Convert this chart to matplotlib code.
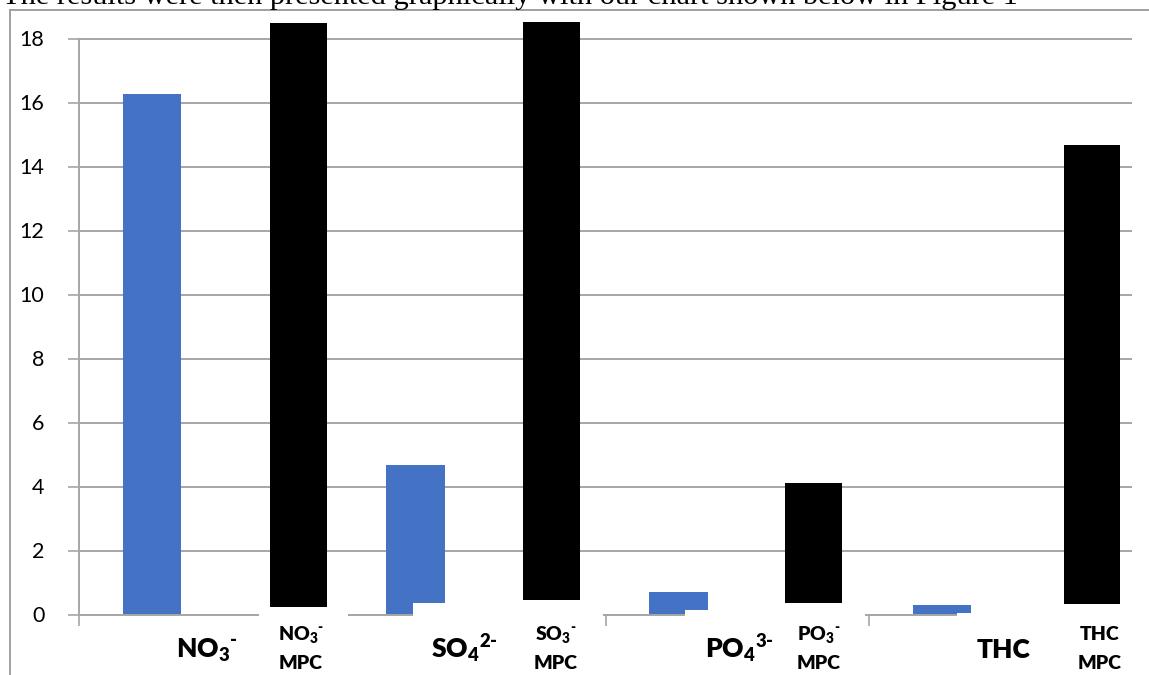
import numpy as np
import matplotlib.pyplot as plt
from matplotlib.lines import Line2D
from matplotlib.patches import Rectangle

plt.rcParams['font.family'] = ['Lato', 'DejaVu Sans']
plt.rcParams['mathtext.fontset'] = 'custom'
plt.rcParams['mathtext.rm'] = 'Lato:heavy'
plt.rcParams['mathtext.bf'] = 'Lato:heavy'

# measured values
groups = [r"$\mathrm{NO_3}^{\text{-}}$", r"$\mathrm{SO_4}^{\text{2-}}$", r"$\mathrm{PO_4}^{\text{3-}}$", "THC"]
mpc_top_lines = [r"$\mathrm{NO_3}^{\text{-}}$", r"$\mathrm{SO_3}^{\text{-}}$", r"$\mathrm{PO_3}^{\text{-}}$", "THC"]
blue_values = [16.27, 4.67, 0.70, 0.30]
black_tops = [18.49, 18.51, 4.11, 14.67]
black_bottoms = [0.23, 0.45, 0.36, 0.33]
black_offset = [0.726, 0.687, 0.682, 0.741]
# white boxes pasted over the chart bottom (left, right, top)
mask_left = [0.684, 1.269, 2.302, 3.335]
mask_right = [1.022, 1.990, 2.986, 4.10]
mask_top = [0.23, 0.36, 0.14, 0.05]
group_label_x = [0.486, 1.463, 2.507, 3.51]
mpc_label_x = [0.843, 1.812, 2.81, 3.878]

W, H = 1149, 675
fig = plt.figure(figsize=(W / 100, H / 100), dpi=100)

# axes placement from pixel measurements
y0_px, px_per_unit = 614.5, 32.0
ytop = 18.6
ax = fig.add_axes([79 / W, (H - y0_px) / H, 1053 / W, ytop * px_per_unit / H])
ax.set_xlim(0, 4)
ax.set_ylim(0, ytop)

grey = "#a6a6a6"
ax.set_axisbelow(True)
ax.yaxis.grid(True, color=grey, lw=1.4)
ax.set_yticks(np.arange(0, 19, 2))
ax.set_xticks(np.arange(0, 5))
ax.set_xticklabels([])
ax.tick_params(axis="both", direction="out", length=8, width=1.2, color=grey,
               labelsize=15.5, pad=17)
for s in ["top", "right"]:
    ax.spines[s].set_visible(False)
ax.spines["left"].set_bounds(0, 18)
for s in ["left", "bottom"]:
    ax.spines[s].set_color(grey)
    ax.spines[s].set_linewidth(1.4)

x = np.arange(4)
ax.bar(x + 0.167, blue_values, width=0.222, align="edge", color="#4472C4", zorder=1)

for i in range(4):
    ax.add_patch(Rectangle((mask_left[i], -3), mask_right[i] - mask_left[i],
                           mask_top[i] + 3, facecolor="white", edgecolor="none",
                           zorder=3, clip_on=False))

heights = np.array(black_tops) - np.array(black_bottoms)
ax.bar(x + np.array(black_offset), heights, bottom=black_bottoms, width=0.215,
       align="edge", color="black", zorder=4, clip_on=False)

for i in range(4):
    ax.text(group_label_x[i], -1.36, groups[i], ha="center", va="baseline",
            fontsize=19, fontweight="heavy", zorder=5, clip_on=False)
    ax.text(mpc_label_x[i], -0.80, mpc_top_lines[i], ha="center", va="baseline",
            fontsize=14, fontweight="heavy", zorder=5, clip_on=False)
    ax.text(mpc_label_x[i], -1.70, "MPC", ha="center", va="baseline",
            fontsize=14, fontweight="heavy", zorder=5, clip_on=False)

# document text and frame around the pasted chart
fig.text(2 / W, 1 - 4 / H, "The results were then presented graphically with our chart shown below in Figure 1",
         family="Liberation Serif", fontsize=21.9, va="baseline", ha="left")
fig.add_artist(Line2D([10 / W, 10 / W], [0, 1 - 10 / H], color="#a0a0a0", lw=1.4))
fig.add_artist(Line2D([10 / W, 1], [1 - 10 / H, 1 - 10 / H], color="#a0a0a0", lw=1.4))

fig.savefig("out.png", dpi=100)
